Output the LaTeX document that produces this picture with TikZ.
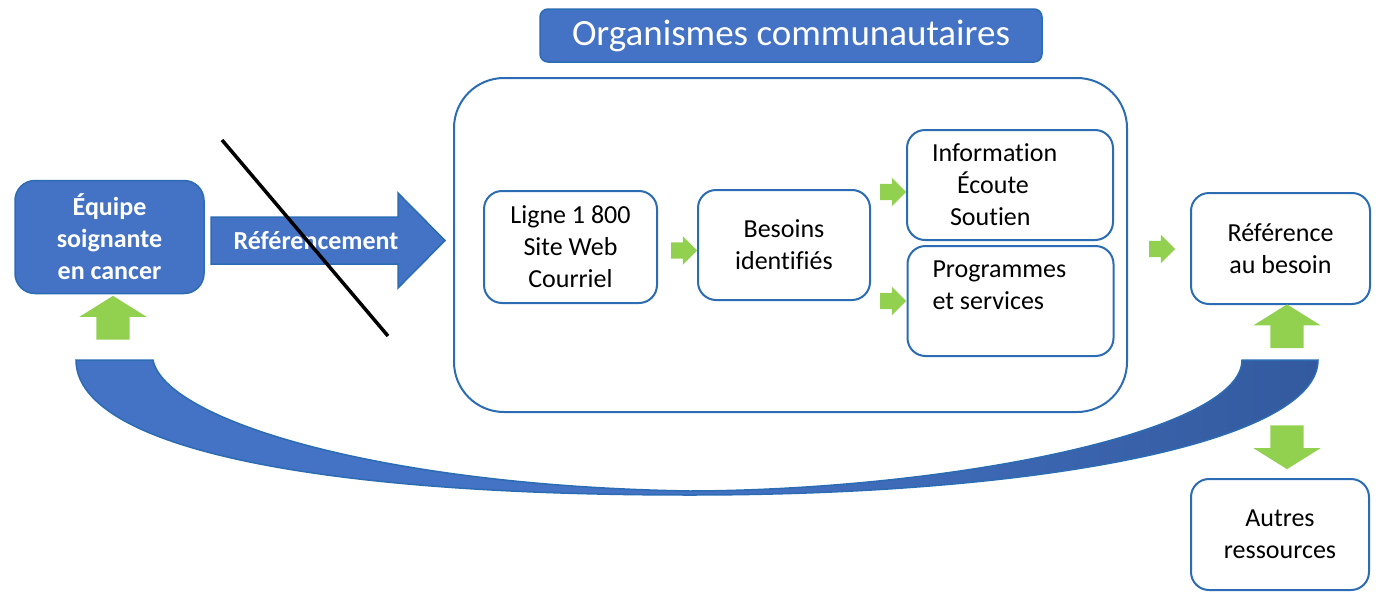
\documentclass[tikz,border=0pt]{standalone}
\usepackage{fontspec}
\setmainfont{Carlito}[Ligatures={NoCommon}]
\usetikzlibrary{positioning}
\usetikzlibrary{calc}
\usetikzlibrary{shapes.arrows}

\definecolor{bleu}{HTML}{4472C4}
\definecolor{bleufonce}{HTML}{335A9E}
\definecolor{trait}{HTML}{2B6CB3}
\definecolor{vert}{HTML}{92D050}

\begin{document}
\begin{tikzpicture}[x=1pt,y=-1pt,
                font=\fontsize{26}{32}\selectfont,
                boite/.style={draw=trait, line width=2pt, rounded corners=18pt,
                  fill=white, align=center, inner sep=0pt},
                pleine/.style={draw=trait, line width=1.5pt, fill=bleu, text=white},
                flechette/.style={single arrow, fill=vert, minimum height=26pt,
                  minimum width=28pt, inner sep=8pt, single arrow head extend=6pt,
                  single arrow tip angle=90, single arrow head indent=0pt},
                grosse/.style={single arrow, fill=vert, minimum height=40pt,
                  inner sep=16.5pt, single arrow head extend=17pt,
                  single arrow tip angle=116, single arrow head indent=0pt}]
             \useasboundingbox (0,0) rectangle (1377,592);

             % cadre des organismes
             \node[boite, rounded corners=50pt, minimum width=673pt,
                   minimum height=334pt] (cadre) at (790.5,245) {};
             \node[pleine, rounded corners=8pt, minimum width=502pt, minimum height=53pt,
                   font=\fontsize{37}{44}\selectfont] (titre) at (791,35.5)
                   {Organismes communautaires};

             % equipe et referencement
             \node[pleine, rounded corners=20pt, minimum width=189pt, minimum height=113pt,
                   font=\fontsize{26}{32}\selectfont\bfseries, align=center]
                   (equipe) at (109.5,237) {Équipe\\soignante\\en cancer};
             \coordinate (debut) at (211,240.5);
             \coordinate (fin) at (445,240.5);
             \draw[pleine] ($(debut)+(0,-23.5)$) -- ($(fin)+(-47,-23.5)$)
                   -- ($(fin)+(-47,-47.5)$) -- (fin) -- ($(fin)+(-47,47.5)$)
                   -- ($(fin)+(-47,23.5)$) -- ($(debut)+(0,23.5)$) -- cycle;
             \node[text=white, font=\fontsize{26}{32}\selectfont\bfseries]
                   (referencement) at (316,241) {Référencement};
             \coordinate (barre1) at (222,140);
             \coordinate (barre2) at (388,336);
             \draw[line width=3.5pt] (barre1) -- (barre2);

             % boites internes
             \node[boite, minimum width=173pt, minimum height=112pt]
                   (ligne) at (570.5,247) {Ligne 1 800\\Site Web\\Courriel};
             \node[boite, minimum width=172pt, minimum height=110pt]
                   (besoins) at (784,245) {Besoins\\identifiés};
             \node[boite, minimum height=110pt, align=flush left, text width=156pt,
                   inner xsep=25pt] (info) at (1010,185)
                   {Information\\\hspace*{25pt}Écoute\\\hspace*{18pt}Soutien};
             \node[boite, minimum height=110pt, align=flush left, text width=156pt,
                   inner xsep=25pt] (prog) at (1010.5,301)
                   {Programmes\\et services\\\mbox{}};
             \node[boite, minimum width=179pt, minimum height=111pt]
                   (reference) at (1280.5,248.5) {Référence\\au besoin};
             \node[boite, minimum width=178pt, minimum height=111pt]
                   (autres) at (1280,534.5) {Autres\\ressources};

             % fleches vertes
             \node[flechette] (f1) at (680,250.5) {};
             \node[flechette] (f2) at (889,192) {};
             \node[flechette] (f3) at (889,301) {};
             \node[flechette] (f4) at (1158,249) {};
             \node[grosse, shape border rotate=90] (g1) at (113,323) {};
             \node[grosse, shape border rotate=90] (g2) at (1287,331.5) {};
             \node[grosse, shape border rotate=270] (g3) at (1287,442) {};

             % retour vers l'equipe
             \draw[draw=trait, line width=1.5pt, left color=bleu, right color=bleufonce,
                   middle color=bleu]
                   (76,360) .. controls (76,440) and (280,495) .. (690,495)
                   .. controls (1050,495) and (1318,440) .. (1318,360)
                   -- (1242,360) .. controls (1242,432) and (950,490) .. (690,491)
                   .. controls (380,486) and (165,420) .. (153,360) -- cycle;
             \end{tikzpicture}
\end{document}
